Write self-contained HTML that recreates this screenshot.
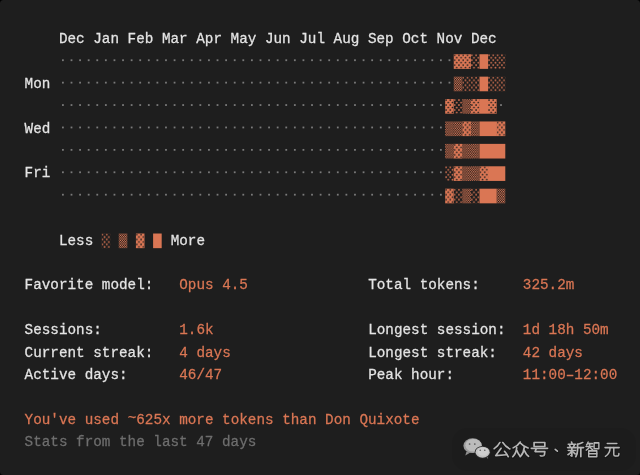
<!DOCTYPE html>
<html><head><meta charset="utf-8"><title>stats</title>
<style>
html,body{margin:0;padding:0;background:#1e1e1e;}
body{width:640px;height:475px;overflow:hidden;position:relative;font-family:"Liberation Mono",monospace;}
text{font-family:"Liberation Mono",monospace;font-size:14.3px;fill:#e4e4e4;stroke:#e4e4e4;stroke-width:0.25px;letter-spacing:0.0100px;white-space:pre;}
.o{fill:#da7654;stroke:#da7654;}
.g{fill:#6e6e6e;stroke:#6e6e6e;}
svg{position:absolute;left:0;top:0;will-change:transform;}
</style></head><body>
<svg width="640" height="475" viewBox="0 0 640 475" xml:space="preserve">
<defs>
<pattern id="p1" width="4.295" height="4.95" patternUnits="userSpaceOnUse"><rect x="0.050" y="0.150" width="1.7" height="1.7" rx="0.45" fill="#da7654"/><rect x="4.345" y="0.150" width="1.7" height="1.7" rx="0.45" fill="#da7654"/><rect x="-4.245" y="0.150" width="1.7" height="1.7" rx="0.45" fill="#da7654"/><rect x="2.200" y="2.650" width="1.7" height="1.7" rx="0.45" fill="#da7654"/><rect x="-2.095" y="2.650" width="1.7" height="1.7" rx="0.45" fill="#da7654"/><rect x="6.495" y="2.650" width="1.7" height="1.7" rx="0.45" fill="#da7654"/><rect x="0.050" y="5.100" width="1.7" height="1.7" rx="0.45" fill="#da7654"/><rect x="4.345" y="5.100" width="1.7" height="1.7" rx="0.45" fill="#da7654"/><rect x="2.200" y="-2.300" width="1.7" height="1.7" rx="0.45" fill="#da7654"/><rect x="-2.095" y="-2.300" width="1.7" height="1.7" rx="0.45" fill="#da7654"/></pattern>
<pattern id="p2" width="2.1475" height="2.475" patternUnits="userSpaceOnUse">
<rect x="0" y="0" width="1.07375" height="1.2375" fill="#da7654"/>
<rect x="1.07375" y="1.2375" width="1.07375" height="1.2375" fill="#da7654"/>
</pattern>
<pattern id="p3" width="4.295" height="4.95" patternUnits="userSpaceOnUse"><rect x="0.075" y="0.175" width="1.65" height="1.65" rx="0.45" fill="#1e1e1e"/><rect x="4.370" y="0.175" width="1.65" height="1.65" rx="0.45" fill="#1e1e1e"/><rect x="-4.220" y="0.175" width="1.65" height="1.65" rx="0.45" fill="#1e1e1e"/><rect x="2.225" y="2.675" width="1.65" height="1.65" rx="0.45" fill="#1e1e1e"/><rect x="-2.070" y="2.675" width="1.65" height="1.65" rx="0.45" fill="#1e1e1e"/><rect x="6.520" y="2.675" width="1.65" height="1.65" rx="0.45" fill="#1e1e1e"/><rect x="0.075" y="5.125" width="1.65" height="1.65" rx="0.45" fill="#1e1e1e"/><rect x="4.370" y="5.125" width="1.65" height="1.65" rx="0.45" fill="#1e1e1e"/><rect x="2.225" y="-2.275" width="1.65" height="1.65" rx="0.45" fill="#1e1e1e"/><rect x="-2.070" y="-2.275" width="1.65" height="1.65" rx="0.45" fill="#1e1e1e"/></pattern>
</defs>
<rect x="62.01" y="59.33" width="1.8" height="1.8" fill="#7a7a7a"/>
<rect x="70.59" y="59.33" width="1.8" height="1.8" fill="#7a7a7a"/>
<rect x="79.18" y="59.33" width="1.8" height="1.8" fill="#7a7a7a"/>
<rect x="87.77" y="59.33" width="1.8" height="1.8" fill="#7a7a7a"/>
<rect x="96.36" y="59.33" width="1.8" height="1.8" fill="#7a7a7a"/>
<rect x="104.95" y="59.33" width="1.8" height="1.8" fill="#7a7a7a"/>
<rect x="113.55" y="59.33" width="1.8" height="1.8" fill="#7a7a7a"/>
<rect x="122.13" y="59.33" width="1.8" height="1.8" fill="#7a7a7a"/>
<rect x="130.72" y="59.33" width="1.8" height="1.8" fill="#7a7a7a"/>
<rect x="139.31" y="59.33" width="1.8" height="1.8" fill="#7a7a7a"/>
<rect x="147.90" y="59.33" width="1.8" height="1.8" fill="#7a7a7a"/>
<rect x="156.49" y="59.33" width="1.8" height="1.8" fill="#7a7a7a"/>
<rect x="165.08" y="59.33" width="1.8" height="1.8" fill="#7a7a7a"/>
<rect x="173.67" y="59.33" width="1.8" height="1.8" fill="#7a7a7a"/>
<rect x="182.26" y="59.33" width="1.8" height="1.8" fill="#7a7a7a"/>
<rect x="190.85" y="59.33" width="1.8" height="1.8" fill="#7a7a7a"/>
<rect x="199.44" y="59.33" width="1.8" height="1.8" fill="#7a7a7a"/>
<rect x="208.03" y="59.33" width="1.8" height="1.8" fill="#7a7a7a"/>
<rect x="216.62" y="59.33" width="1.8" height="1.8" fill="#7a7a7a"/>
<rect x="225.21" y="59.33" width="1.8" height="1.8" fill="#7a7a7a"/>
<rect x="233.80" y="59.33" width="1.8" height="1.8" fill="#7a7a7a"/>
<rect x="242.39" y="59.33" width="1.8" height="1.8" fill="#7a7a7a"/>
<rect x="250.98" y="59.33" width="1.8" height="1.8" fill="#7a7a7a"/>
<rect x="259.58" y="59.33" width="1.8" height="1.8" fill="#7a7a7a"/>
<rect x="268.17" y="59.33" width="1.8" height="1.8" fill="#7a7a7a"/>
<rect x="276.76" y="59.33" width="1.8" height="1.8" fill="#7a7a7a"/>
<rect x="285.35" y="59.33" width="1.8" height="1.8" fill="#7a7a7a"/>
<rect x="293.94" y="59.33" width="1.8" height="1.8" fill="#7a7a7a"/>
<rect x="302.53" y="59.33" width="1.8" height="1.8" fill="#7a7a7a"/>
<rect x="311.12" y="59.33" width="1.8" height="1.8" fill="#7a7a7a"/>
<rect x="319.71" y="59.33" width="1.8" height="1.8" fill="#7a7a7a"/>
<rect x="328.30" y="59.33" width="1.8" height="1.8" fill="#7a7a7a"/>
<rect x="336.89" y="59.33" width="1.8" height="1.8" fill="#7a7a7a"/>
<rect x="345.48" y="59.33" width="1.8" height="1.8" fill="#7a7a7a"/>
<rect x="354.07" y="59.33" width="1.8" height="1.8" fill="#7a7a7a"/>
<rect x="362.66" y="59.33" width="1.8" height="1.8" fill="#7a7a7a"/>
<rect x="371.25" y="59.33" width="1.8" height="1.8" fill="#7a7a7a"/>
<rect x="379.84" y="59.33" width="1.8" height="1.8" fill="#7a7a7a"/>
<rect x="388.43" y="59.33" width="1.8" height="1.8" fill="#7a7a7a"/>
<rect x="397.02" y="59.33" width="1.8" height="1.8" fill="#7a7a7a"/>
<rect x="405.61" y="59.33" width="1.8" height="1.8" fill="#7a7a7a"/>
<rect x="414.20" y="59.33" width="1.8" height="1.8" fill="#7a7a7a"/>
<rect x="422.79" y="59.33" width="1.8" height="1.8" fill="#7a7a7a"/>
<rect x="431.38" y="59.33" width="1.8" height="1.8" fill="#7a7a7a"/>
<rect x="439.97" y="59.33" width="1.8" height="1.8" fill="#7a7a7a"/>
<rect x="448.56" y="59.33" width="1.8" height="1.8" fill="#7a7a7a"/>
<rect x="453.75" y="54.23" width="17.18" height="14.65" fill="#da7654"/>
<rect x="479.52" y="54.23" width="8.59" height="14.65" fill="#da7654"/>
<g transform="translate(453.75 54.23)"><rect width="8.59" height="14.65" fill="url(#p3)"/></g>
<g transform="translate(462.34 54.23)"><rect width="8.59" height="14.65" fill="url(#p3)"/></g>
<g transform="translate(470.93 54.23)"><rect width="8.59" height="14.65" fill="url(#p1)"/></g>
<g transform="translate(488.11 54.23)"><rect width="8.59" height="14.65" fill="url(#p1)"/></g>
<g transform="translate(496.70 54.23)"><rect width="8.59" height="14.65" fill="url(#p1)"/></g>
<rect x="62.01" y="81.74" width="1.8" height="1.8" fill="#7a7a7a"/>
<rect x="70.59" y="81.74" width="1.8" height="1.8" fill="#7a7a7a"/>
<rect x="79.18" y="81.74" width="1.8" height="1.8" fill="#7a7a7a"/>
<rect x="87.77" y="81.74" width="1.8" height="1.8" fill="#7a7a7a"/>
<rect x="96.36" y="81.74" width="1.8" height="1.8" fill="#7a7a7a"/>
<rect x="104.95" y="81.74" width="1.8" height="1.8" fill="#7a7a7a"/>
<rect x="113.55" y="81.74" width="1.8" height="1.8" fill="#7a7a7a"/>
<rect x="122.13" y="81.74" width="1.8" height="1.8" fill="#7a7a7a"/>
<rect x="130.72" y="81.74" width="1.8" height="1.8" fill="#7a7a7a"/>
<rect x="139.31" y="81.74" width="1.8" height="1.8" fill="#7a7a7a"/>
<rect x="147.90" y="81.74" width="1.8" height="1.8" fill="#7a7a7a"/>
<rect x="156.49" y="81.74" width="1.8" height="1.8" fill="#7a7a7a"/>
<rect x="165.08" y="81.74" width="1.8" height="1.8" fill="#7a7a7a"/>
<rect x="173.67" y="81.74" width="1.8" height="1.8" fill="#7a7a7a"/>
<rect x="182.26" y="81.74" width="1.8" height="1.8" fill="#7a7a7a"/>
<rect x="190.85" y="81.74" width="1.8" height="1.8" fill="#7a7a7a"/>
<rect x="199.44" y="81.74" width="1.8" height="1.8" fill="#7a7a7a"/>
<rect x="208.03" y="81.74" width="1.8" height="1.8" fill="#7a7a7a"/>
<rect x="216.62" y="81.74" width="1.8" height="1.8" fill="#7a7a7a"/>
<rect x="225.21" y="81.74" width="1.8" height="1.8" fill="#7a7a7a"/>
<rect x="233.80" y="81.74" width="1.8" height="1.8" fill="#7a7a7a"/>
<rect x="242.39" y="81.74" width="1.8" height="1.8" fill="#7a7a7a"/>
<rect x="250.98" y="81.74" width="1.8" height="1.8" fill="#7a7a7a"/>
<rect x="259.58" y="81.74" width="1.8" height="1.8" fill="#7a7a7a"/>
<rect x="268.17" y="81.74" width="1.8" height="1.8" fill="#7a7a7a"/>
<rect x="276.76" y="81.74" width="1.8" height="1.8" fill="#7a7a7a"/>
<rect x="285.35" y="81.74" width="1.8" height="1.8" fill="#7a7a7a"/>
<rect x="293.94" y="81.74" width="1.8" height="1.8" fill="#7a7a7a"/>
<rect x="302.53" y="81.74" width="1.8" height="1.8" fill="#7a7a7a"/>
<rect x="311.12" y="81.74" width="1.8" height="1.8" fill="#7a7a7a"/>
<rect x="319.71" y="81.74" width="1.8" height="1.8" fill="#7a7a7a"/>
<rect x="328.30" y="81.74" width="1.8" height="1.8" fill="#7a7a7a"/>
<rect x="336.89" y="81.74" width="1.8" height="1.8" fill="#7a7a7a"/>
<rect x="345.48" y="81.74" width="1.8" height="1.8" fill="#7a7a7a"/>
<rect x="354.07" y="81.74" width="1.8" height="1.8" fill="#7a7a7a"/>
<rect x="362.66" y="81.74" width="1.8" height="1.8" fill="#7a7a7a"/>
<rect x="371.25" y="81.74" width="1.8" height="1.8" fill="#7a7a7a"/>
<rect x="379.84" y="81.74" width="1.8" height="1.8" fill="#7a7a7a"/>
<rect x="388.43" y="81.74" width="1.8" height="1.8" fill="#7a7a7a"/>
<rect x="397.02" y="81.74" width="1.8" height="1.8" fill="#7a7a7a"/>
<rect x="405.61" y="81.74" width="1.8" height="1.8" fill="#7a7a7a"/>
<rect x="414.20" y="81.74" width="1.8" height="1.8" fill="#7a7a7a"/>
<rect x="422.79" y="81.74" width="1.8" height="1.8" fill="#7a7a7a"/>
<rect x="431.38" y="81.74" width="1.8" height="1.8" fill="#7a7a7a"/>
<rect x="439.97" y="81.74" width="1.8" height="1.8" fill="#7a7a7a"/>
<rect x="448.56" y="81.74" width="1.8" height="1.8" fill="#7a7a7a"/>
<rect x="479.52" y="76.64" width="8.59" height="14.65" fill="#da7654"/>
<g transform="translate(453.75 76.64)"><rect width="8.59" height="14.65" fill="url(#p2)"/></g>
<g transform="translate(462.34 76.64)"><rect width="8.59" height="14.65" fill="url(#p1)"/></g>
<g transform="translate(470.93 76.64)"><rect width="8.59" height="14.65" fill="url(#p1)"/></g>
<g transform="translate(488.11 76.64)"><rect width="8.59" height="14.65" fill="url(#p1)"/></g>
<g transform="translate(496.70 76.64)"><rect width="8.59" height="14.65" fill="url(#p1)"/></g>
<rect x="62.01" y="104.15" width="1.8" height="1.8" fill="#7a7a7a"/>
<rect x="70.59" y="104.15" width="1.8" height="1.8" fill="#7a7a7a"/>
<rect x="79.18" y="104.15" width="1.8" height="1.8" fill="#7a7a7a"/>
<rect x="87.77" y="104.15" width="1.8" height="1.8" fill="#7a7a7a"/>
<rect x="96.36" y="104.15" width="1.8" height="1.8" fill="#7a7a7a"/>
<rect x="104.95" y="104.15" width="1.8" height="1.8" fill="#7a7a7a"/>
<rect x="113.55" y="104.15" width="1.8" height="1.8" fill="#7a7a7a"/>
<rect x="122.13" y="104.15" width="1.8" height="1.8" fill="#7a7a7a"/>
<rect x="130.72" y="104.15" width="1.8" height="1.8" fill="#7a7a7a"/>
<rect x="139.31" y="104.15" width="1.8" height="1.8" fill="#7a7a7a"/>
<rect x="147.90" y="104.15" width="1.8" height="1.8" fill="#7a7a7a"/>
<rect x="156.49" y="104.15" width="1.8" height="1.8" fill="#7a7a7a"/>
<rect x="165.08" y="104.15" width="1.8" height="1.8" fill="#7a7a7a"/>
<rect x="173.67" y="104.15" width="1.8" height="1.8" fill="#7a7a7a"/>
<rect x="182.26" y="104.15" width="1.8" height="1.8" fill="#7a7a7a"/>
<rect x="190.85" y="104.15" width="1.8" height="1.8" fill="#7a7a7a"/>
<rect x="199.44" y="104.15" width="1.8" height="1.8" fill="#7a7a7a"/>
<rect x="208.03" y="104.15" width="1.8" height="1.8" fill="#7a7a7a"/>
<rect x="216.62" y="104.15" width="1.8" height="1.8" fill="#7a7a7a"/>
<rect x="225.21" y="104.15" width="1.8" height="1.8" fill="#7a7a7a"/>
<rect x="233.80" y="104.15" width="1.8" height="1.8" fill="#7a7a7a"/>
<rect x="242.39" y="104.15" width="1.8" height="1.8" fill="#7a7a7a"/>
<rect x="250.98" y="104.15" width="1.8" height="1.8" fill="#7a7a7a"/>
<rect x="259.58" y="104.15" width="1.8" height="1.8" fill="#7a7a7a"/>
<rect x="268.17" y="104.15" width="1.8" height="1.8" fill="#7a7a7a"/>
<rect x="276.76" y="104.15" width="1.8" height="1.8" fill="#7a7a7a"/>
<rect x="285.35" y="104.15" width="1.8" height="1.8" fill="#7a7a7a"/>
<rect x="293.94" y="104.15" width="1.8" height="1.8" fill="#7a7a7a"/>
<rect x="302.53" y="104.15" width="1.8" height="1.8" fill="#7a7a7a"/>
<rect x="311.12" y="104.15" width="1.8" height="1.8" fill="#7a7a7a"/>
<rect x="319.71" y="104.15" width="1.8" height="1.8" fill="#7a7a7a"/>
<rect x="328.30" y="104.15" width="1.8" height="1.8" fill="#7a7a7a"/>
<rect x="336.89" y="104.15" width="1.8" height="1.8" fill="#7a7a7a"/>
<rect x="345.48" y="104.15" width="1.8" height="1.8" fill="#7a7a7a"/>
<rect x="354.07" y="104.15" width="1.8" height="1.8" fill="#7a7a7a"/>
<rect x="362.66" y="104.15" width="1.8" height="1.8" fill="#7a7a7a"/>
<rect x="371.25" y="104.15" width="1.8" height="1.8" fill="#7a7a7a"/>
<rect x="379.84" y="104.15" width="1.8" height="1.8" fill="#7a7a7a"/>
<rect x="388.43" y="104.15" width="1.8" height="1.8" fill="#7a7a7a"/>
<rect x="397.02" y="104.15" width="1.8" height="1.8" fill="#7a7a7a"/>
<rect x="405.61" y="104.15" width="1.8" height="1.8" fill="#7a7a7a"/>
<rect x="414.20" y="104.15" width="1.8" height="1.8" fill="#7a7a7a"/>
<rect x="422.79" y="104.15" width="1.8" height="1.8" fill="#7a7a7a"/>
<rect x="431.38" y="104.15" width="1.8" height="1.8" fill="#7a7a7a"/>
<rect x="439.97" y="104.15" width="1.8" height="1.8" fill="#7a7a7a"/>
<rect x="500.10" y="104.15" width="1.8" height="1.8" fill="#7a7a7a"/>
<rect x="445.16" y="99.05" width="8.59" height="14.65" fill="#da7654"/>
<rect x="470.93" y="99.05" width="25.77" height="14.65" fill="#da7654"/>
<g transform="translate(445.16 99.05)"><rect width="8.59" height="14.65" fill="url(#p3)"/></g>
<g transform="translate(453.75 99.05)"><rect width="8.59" height="14.65" fill="url(#p1)"/></g>
<g transform="translate(462.34 99.05)"><rect width="8.59" height="14.65" fill="url(#p2)"/></g>
<g transform="translate(470.93 99.05)"><rect width="8.59" height="14.65" fill="url(#p3)"/></g>
<g transform="translate(488.11 99.05)"><rect width="8.59" height="14.65" fill="url(#p3)"/></g>
<rect x="62.01" y="126.56" width="1.8" height="1.8" fill="#7a7a7a"/>
<rect x="70.59" y="126.56" width="1.8" height="1.8" fill="#7a7a7a"/>
<rect x="79.18" y="126.56" width="1.8" height="1.8" fill="#7a7a7a"/>
<rect x="87.77" y="126.56" width="1.8" height="1.8" fill="#7a7a7a"/>
<rect x="96.36" y="126.56" width="1.8" height="1.8" fill="#7a7a7a"/>
<rect x="104.95" y="126.56" width="1.8" height="1.8" fill="#7a7a7a"/>
<rect x="113.55" y="126.56" width="1.8" height="1.8" fill="#7a7a7a"/>
<rect x="122.13" y="126.56" width="1.8" height="1.8" fill="#7a7a7a"/>
<rect x="130.72" y="126.56" width="1.8" height="1.8" fill="#7a7a7a"/>
<rect x="139.31" y="126.56" width="1.8" height="1.8" fill="#7a7a7a"/>
<rect x="147.90" y="126.56" width="1.8" height="1.8" fill="#7a7a7a"/>
<rect x="156.49" y="126.56" width="1.8" height="1.8" fill="#7a7a7a"/>
<rect x="165.08" y="126.56" width="1.8" height="1.8" fill="#7a7a7a"/>
<rect x="173.67" y="126.56" width="1.8" height="1.8" fill="#7a7a7a"/>
<rect x="182.26" y="126.56" width="1.8" height="1.8" fill="#7a7a7a"/>
<rect x="190.85" y="126.56" width="1.8" height="1.8" fill="#7a7a7a"/>
<rect x="199.44" y="126.56" width="1.8" height="1.8" fill="#7a7a7a"/>
<rect x="208.03" y="126.56" width="1.8" height="1.8" fill="#7a7a7a"/>
<rect x="216.62" y="126.56" width="1.8" height="1.8" fill="#7a7a7a"/>
<rect x="225.21" y="126.56" width="1.8" height="1.8" fill="#7a7a7a"/>
<rect x="233.80" y="126.56" width="1.8" height="1.8" fill="#7a7a7a"/>
<rect x="242.39" y="126.56" width="1.8" height="1.8" fill="#7a7a7a"/>
<rect x="250.98" y="126.56" width="1.8" height="1.8" fill="#7a7a7a"/>
<rect x="259.58" y="126.56" width="1.8" height="1.8" fill="#7a7a7a"/>
<rect x="268.17" y="126.56" width="1.8" height="1.8" fill="#7a7a7a"/>
<rect x="276.76" y="126.56" width="1.8" height="1.8" fill="#7a7a7a"/>
<rect x="285.35" y="126.56" width="1.8" height="1.8" fill="#7a7a7a"/>
<rect x="293.94" y="126.56" width="1.8" height="1.8" fill="#7a7a7a"/>
<rect x="302.53" y="126.56" width="1.8" height="1.8" fill="#7a7a7a"/>
<rect x="311.12" y="126.56" width="1.8" height="1.8" fill="#7a7a7a"/>
<rect x="319.71" y="126.56" width="1.8" height="1.8" fill="#7a7a7a"/>
<rect x="328.30" y="126.56" width="1.8" height="1.8" fill="#7a7a7a"/>
<rect x="336.89" y="126.56" width="1.8" height="1.8" fill="#7a7a7a"/>
<rect x="345.48" y="126.56" width="1.8" height="1.8" fill="#7a7a7a"/>
<rect x="354.07" y="126.56" width="1.8" height="1.8" fill="#7a7a7a"/>
<rect x="362.66" y="126.56" width="1.8" height="1.8" fill="#7a7a7a"/>
<rect x="371.25" y="126.56" width="1.8" height="1.8" fill="#7a7a7a"/>
<rect x="379.84" y="126.56" width="1.8" height="1.8" fill="#7a7a7a"/>
<rect x="388.43" y="126.56" width="1.8" height="1.8" fill="#7a7a7a"/>
<rect x="397.02" y="126.56" width="1.8" height="1.8" fill="#7a7a7a"/>
<rect x="405.61" y="126.56" width="1.8" height="1.8" fill="#7a7a7a"/>
<rect x="414.20" y="126.56" width="1.8" height="1.8" fill="#7a7a7a"/>
<rect x="422.79" y="126.56" width="1.8" height="1.8" fill="#7a7a7a"/>
<rect x="431.38" y="126.56" width="1.8" height="1.8" fill="#7a7a7a"/>
<rect x="439.97" y="126.56" width="1.8" height="1.8" fill="#7a7a7a"/>
<rect x="462.34" y="121.46" width="8.59" height="14.65" fill="#da7654"/>
<rect x="479.52" y="121.46" width="25.77" height="14.65" fill="#da7654"/>
<g transform="translate(445.16 121.46)"><rect width="8.59" height="14.65" fill="url(#p2)"/></g>
<g transform="translate(453.75 121.46)"><rect width="8.59" height="14.65" fill="url(#p2)"/></g>
<g transform="translate(462.34 121.46)"><rect width="8.59" height="14.65" fill="url(#p3)"/></g>
<g transform="translate(470.93 121.46)"><rect width="8.59" height="14.65" fill="url(#p2)"/></g>
<g transform="translate(496.70 121.46)"><rect width="8.59" height="14.65" fill="url(#p3)"/></g>
<rect x="62.01" y="148.97" width="1.8" height="1.8" fill="#7a7a7a"/>
<rect x="70.59" y="148.97" width="1.8" height="1.8" fill="#7a7a7a"/>
<rect x="79.18" y="148.97" width="1.8" height="1.8" fill="#7a7a7a"/>
<rect x="87.77" y="148.97" width="1.8" height="1.8" fill="#7a7a7a"/>
<rect x="96.36" y="148.97" width="1.8" height="1.8" fill="#7a7a7a"/>
<rect x="104.95" y="148.97" width="1.8" height="1.8" fill="#7a7a7a"/>
<rect x="113.55" y="148.97" width="1.8" height="1.8" fill="#7a7a7a"/>
<rect x="122.13" y="148.97" width="1.8" height="1.8" fill="#7a7a7a"/>
<rect x="130.72" y="148.97" width="1.8" height="1.8" fill="#7a7a7a"/>
<rect x="139.31" y="148.97" width="1.8" height="1.8" fill="#7a7a7a"/>
<rect x="147.90" y="148.97" width="1.8" height="1.8" fill="#7a7a7a"/>
<rect x="156.49" y="148.97" width="1.8" height="1.8" fill="#7a7a7a"/>
<rect x="165.08" y="148.97" width="1.8" height="1.8" fill="#7a7a7a"/>
<rect x="173.67" y="148.97" width="1.8" height="1.8" fill="#7a7a7a"/>
<rect x="182.26" y="148.97" width="1.8" height="1.8" fill="#7a7a7a"/>
<rect x="190.85" y="148.97" width="1.8" height="1.8" fill="#7a7a7a"/>
<rect x="199.44" y="148.97" width="1.8" height="1.8" fill="#7a7a7a"/>
<rect x="208.03" y="148.97" width="1.8" height="1.8" fill="#7a7a7a"/>
<rect x="216.62" y="148.97" width="1.8" height="1.8" fill="#7a7a7a"/>
<rect x="225.21" y="148.97" width="1.8" height="1.8" fill="#7a7a7a"/>
<rect x="233.80" y="148.97" width="1.8" height="1.8" fill="#7a7a7a"/>
<rect x="242.39" y="148.97" width="1.8" height="1.8" fill="#7a7a7a"/>
<rect x="250.98" y="148.97" width="1.8" height="1.8" fill="#7a7a7a"/>
<rect x="259.58" y="148.97" width="1.8" height="1.8" fill="#7a7a7a"/>
<rect x="268.17" y="148.97" width="1.8" height="1.8" fill="#7a7a7a"/>
<rect x="276.76" y="148.97" width="1.8" height="1.8" fill="#7a7a7a"/>
<rect x="285.35" y="148.97" width="1.8" height="1.8" fill="#7a7a7a"/>
<rect x="293.94" y="148.97" width="1.8" height="1.8" fill="#7a7a7a"/>
<rect x="302.53" y="148.97" width="1.8" height="1.8" fill="#7a7a7a"/>
<rect x="311.12" y="148.97" width="1.8" height="1.8" fill="#7a7a7a"/>
<rect x="319.71" y="148.97" width="1.8" height="1.8" fill="#7a7a7a"/>
<rect x="328.30" y="148.97" width="1.8" height="1.8" fill="#7a7a7a"/>
<rect x="336.89" y="148.97" width="1.8" height="1.8" fill="#7a7a7a"/>
<rect x="345.48" y="148.97" width="1.8" height="1.8" fill="#7a7a7a"/>
<rect x="354.07" y="148.97" width="1.8" height="1.8" fill="#7a7a7a"/>
<rect x="362.66" y="148.97" width="1.8" height="1.8" fill="#7a7a7a"/>
<rect x="371.25" y="148.97" width="1.8" height="1.8" fill="#7a7a7a"/>
<rect x="379.84" y="148.97" width="1.8" height="1.8" fill="#7a7a7a"/>
<rect x="388.43" y="148.97" width="1.8" height="1.8" fill="#7a7a7a"/>
<rect x="397.02" y="148.97" width="1.8" height="1.8" fill="#7a7a7a"/>
<rect x="405.61" y="148.97" width="1.8" height="1.8" fill="#7a7a7a"/>
<rect x="414.20" y="148.97" width="1.8" height="1.8" fill="#7a7a7a"/>
<rect x="422.79" y="148.97" width="1.8" height="1.8" fill="#7a7a7a"/>
<rect x="431.38" y="148.97" width="1.8" height="1.8" fill="#7a7a7a"/>
<rect x="439.97" y="148.97" width="1.8" height="1.8" fill="#7a7a7a"/>
<rect x="453.75" y="143.87" width="8.59" height="14.65" fill="#da7654"/>
<rect x="479.52" y="143.87" width="25.77" height="14.65" fill="#da7654"/>
<g transform="translate(445.16 143.87)"><rect width="8.59" height="14.65" fill="url(#p2)"/></g>
<g transform="translate(453.75 143.87)"><rect width="8.59" height="14.65" fill="url(#p3)"/></g>
<g transform="translate(462.34 143.87)"><rect width="8.59" height="14.65" fill="url(#p2)"/></g>
<g transform="translate(470.93 143.87)"><rect width="8.59" height="14.65" fill="url(#p2)"/></g>
<rect x="62.01" y="171.38" width="1.8" height="1.8" fill="#7a7a7a"/>
<rect x="70.59" y="171.38" width="1.8" height="1.8" fill="#7a7a7a"/>
<rect x="79.18" y="171.38" width="1.8" height="1.8" fill="#7a7a7a"/>
<rect x="87.77" y="171.38" width="1.8" height="1.8" fill="#7a7a7a"/>
<rect x="96.36" y="171.38" width="1.8" height="1.8" fill="#7a7a7a"/>
<rect x="104.95" y="171.38" width="1.8" height="1.8" fill="#7a7a7a"/>
<rect x="113.55" y="171.38" width="1.8" height="1.8" fill="#7a7a7a"/>
<rect x="122.13" y="171.38" width="1.8" height="1.8" fill="#7a7a7a"/>
<rect x="130.72" y="171.38" width="1.8" height="1.8" fill="#7a7a7a"/>
<rect x="139.31" y="171.38" width="1.8" height="1.8" fill="#7a7a7a"/>
<rect x="147.90" y="171.38" width="1.8" height="1.8" fill="#7a7a7a"/>
<rect x="156.49" y="171.38" width="1.8" height="1.8" fill="#7a7a7a"/>
<rect x="165.08" y="171.38" width="1.8" height="1.8" fill="#7a7a7a"/>
<rect x="173.67" y="171.38" width="1.8" height="1.8" fill="#7a7a7a"/>
<rect x="182.26" y="171.38" width="1.8" height="1.8" fill="#7a7a7a"/>
<rect x="190.85" y="171.38" width="1.8" height="1.8" fill="#7a7a7a"/>
<rect x="199.44" y="171.38" width="1.8" height="1.8" fill="#7a7a7a"/>
<rect x="208.03" y="171.38" width="1.8" height="1.8" fill="#7a7a7a"/>
<rect x="216.62" y="171.38" width="1.8" height="1.8" fill="#7a7a7a"/>
<rect x="225.21" y="171.38" width="1.8" height="1.8" fill="#7a7a7a"/>
<rect x="233.80" y="171.38" width="1.8" height="1.8" fill="#7a7a7a"/>
<rect x="242.39" y="171.38" width="1.8" height="1.8" fill="#7a7a7a"/>
<rect x="250.98" y="171.38" width="1.8" height="1.8" fill="#7a7a7a"/>
<rect x="259.58" y="171.38" width="1.8" height="1.8" fill="#7a7a7a"/>
<rect x="268.17" y="171.38" width="1.8" height="1.8" fill="#7a7a7a"/>
<rect x="276.76" y="171.38" width="1.8" height="1.8" fill="#7a7a7a"/>
<rect x="285.35" y="171.38" width="1.8" height="1.8" fill="#7a7a7a"/>
<rect x="293.94" y="171.38" width="1.8" height="1.8" fill="#7a7a7a"/>
<rect x="302.53" y="171.38" width="1.8" height="1.8" fill="#7a7a7a"/>
<rect x="311.12" y="171.38" width="1.8" height="1.8" fill="#7a7a7a"/>
<rect x="319.71" y="171.38" width="1.8" height="1.8" fill="#7a7a7a"/>
<rect x="328.30" y="171.38" width="1.8" height="1.8" fill="#7a7a7a"/>
<rect x="336.89" y="171.38" width="1.8" height="1.8" fill="#7a7a7a"/>
<rect x="345.48" y="171.38" width="1.8" height="1.8" fill="#7a7a7a"/>
<rect x="354.07" y="171.38" width="1.8" height="1.8" fill="#7a7a7a"/>
<rect x="362.66" y="171.38" width="1.8" height="1.8" fill="#7a7a7a"/>
<rect x="371.25" y="171.38" width="1.8" height="1.8" fill="#7a7a7a"/>
<rect x="379.84" y="171.38" width="1.8" height="1.8" fill="#7a7a7a"/>
<rect x="388.43" y="171.38" width="1.8" height="1.8" fill="#7a7a7a"/>
<rect x="397.02" y="171.38" width="1.8" height="1.8" fill="#7a7a7a"/>
<rect x="405.61" y="171.38" width="1.8" height="1.8" fill="#7a7a7a"/>
<rect x="414.20" y="171.38" width="1.8" height="1.8" fill="#7a7a7a"/>
<rect x="422.79" y="171.38" width="1.8" height="1.8" fill="#7a7a7a"/>
<rect x="431.38" y="171.38" width="1.8" height="1.8" fill="#7a7a7a"/>
<rect x="439.97" y="171.38" width="1.8" height="1.8" fill="#7a7a7a"/>
<rect x="453.75" y="166.28" width="8.59" height="14.65" fill="#da7654"/>
<rect x="479.52" y="166.28" width="25.77" height="14.65" fill="#da7654"/>
<g transform="translate(445.16 166.28)"><rect width="8.59" height="14.65" fill="url(#p1)"/></g>
<g transform="translate(453.75 166.28)"><rect width="8.59" height="14.65" fill="url(#p3)"/></g>
<g transform="translate(462.34 166.28)"><rect width="8.59" height="14.65" fill="url(#p2)"/></g>
<g transform="translate(470.93 166.28)"><rect width="8.59" height="14.65" fill="url(#p2)"/></g>
<g transform="translate(479.52 166.28)"><rect width="8.59" height="14.65" fill="url(#p3)"/></g>
<rect x="62.01" y="193.79" width="1.8" height="1.8" fill="#7a7a7a"/>
<rect x="70.59" y="193.79" width="1.8" height="1.8" fill="#7a7a7a"/>
<rect x="79.18" y="193.79" width="1.8" height="1.8" fill="#7a7a7a"/>
<rect x="87.77" y="193.79" width="1.8" height="1.8" fill="#7a7a7a"/>
<rect x="96.36" y="193.79" width="1.8" height="1.8" fill="#7a7a7a"/>
<rect x="104.95" y="193.79" width="1.8" height="1.8" fill="#7a7a7a"/>
<rect x="113.55" y="193.79" width="1.8" height="1.8" fill="#7a7a7a"/>
<rect x="122.13" y="193.79" width="1.8" height="1.8" fill="#7a7a7a"/>
<rect x="130.72" y="193.79" width="1.8" height="1.8" fill="#7a7a7a"/>
<rect x="139.31" y="193.79" width="1.8" height="1.8" fill="#7a7a7a"/>
<rect x="147.90" y="193.79" width="1.8" height="1.8" fill="#7a7a7a"/>
<rect x="156.49" y="193.79" width="1.8" height="1.8" fill="#7a7a7a"/>
<rect x="165.08" y="193.79" width="1.8" height="1.8" fill="#7a7a7a"/>
<rect x="173.67" y="193.79" width="1.8" height="1.8" fill="#7a7a7a"/>
<rect x="182.26" y="193.79" width="1.8" height="1.8" fill="#7a7a7a"/>
<rect x="190.85" y="193.79" width="1.8" height="1.8" fill="#7a7a7a"/>
<rect x="199.44" y="193.79" width="1.8" height="1.8" fill="#7a7a7a"/>
<rect x="208.03" y="193.79" width="1.8" height="1.8" fill="#7a7a7a"/>
<rect x="216.62" y="193.79" width="1.8" height="1.8" fill="#7a7a7a"/>
<rect x="225.21" y="193.79" width="1.8" height="1.8" fill="#7a7a7a"/>
<rect x="233.80" y="193.79" width="1.8" height="1.8" fill="#7a7a7a"/>
<rect x="242.39" y="193.79" width="1.8" height="1.8" fill="#7a7a7a"/>
<rect x="250.98" y="193.79" width="1.8" height="1.8" fill="#7a7a7a"/>
<rect x="259.58" y="193.79" width="1.8" height="1.8" fill="#7a7a7a"/>
<rect x="268.17" y="193.79" width="1.8" height="1.8" fill="#7a7a7a"/>
<rect x="276.76" y="193.79" width="1.8" height="1.8" fill="#7a7a7a"/>
<rect x="285.35" y="193.79" width="1.8" height="1.8" fill="#7a7a7a"/>
<rect x="293.94" y="193.79" width="1.8" height="1.8" fill="#7a7a7a"/>
<rect x="302.53" y="193.79" width="1.8" height="1.8" fill="#7a7a7a"/>
<rect x="311.12" y="193.79" width="1.8" height="1.8" fill="#7a7a7a"/>
<rect x="319.71" y="193.79" width="1.8" height="1.8" fill="#7a7a7a"/>
<rect x="328.30" y="193.79" width="1.8" height="1.8" fill="#7a7a7a"/>
<rect x="336.89" y="193.79" width="1.8" height="1.8" fill="#7a7a7a"/>
<rect x="345.48" y="193.79" width="1.8" height="1.8" fill="#7a7a7a"/>
<rect x="354.07" y="193.79" width="1.8" height="1.8" fill="#7a7a7a"/>
<rect x="362.66" y="193.79" width="1.8" height="1.8" fill="#7a7a7a"/>
<rect x="371.25" y="193.79" width="1.8" height="1.8" fill="#7a7a7a"/>
<rect x="379.84" y="193.79" width="1.8" height="1.8" fill="#7a7a7a"/>
<rect x="388.43" y="193.79" width="1.8" height="1.8" fill="#7a7a7a"/>
<rect x="397.02" y="193.79" width="1.8" height="1.8" fill="#7a7a7a"/>
<rect x="405.61" y="193.79" width="1.8" height="1.8" fill="#7a7a7a"/>
<rect x="414.20" y="193.79" width="1.8" height="1.8" fill="#7a7a7a"/>
<rect x="422.79" y="193.79" width="1.8" height="1.8" fill="#7a7a7a"/>
<rect x="431.38" y="193.79" width="1.8" height="1.8" fill="#7a7a7a"/>
<rect x="439.97" y="193.79" width="1.8" height="1.8" fill="#7a7a7a"/>
<rect x="445.16" y="188.69" width="8.59" height="14.65" fill="#da7654"/>
<rect x="479.52" y="188.69" width="17.18" height="14.65" fill="#da7654"/>
<g transform="translate(445.16 188.69)"><rect width="8.59" height="14.65" fill="url(#p3)"/></g>
<g transform="translate(453.75 188.69)"><rect width="8.59" height="14.65" fill="url(#p1)"/></g>
<g transform="translate(462.34 188.69)"><rect width="8.59" height="14.65" fill="url(#p2)"/></g>
<g transform="translate(470.93 188.69)"><rect width="8.59" height="14.65" fill="url(#p1)"/></g>
<g transform="translate(496.70 188.69)"><rect width="8.59" height="14.65" fill="url(#p2)"/></g>
<g transform="translate(101.56 233.51)"><rect width="8.59" height="14.65" fill="url(#p1)"/></g>
<g transform="translate(118.74 233.51)"><rect width="8.59" height="14.65" fill="url(#p2)"/></g>
<rect x="135.92" y="233.51" width="8.59" height="14.65" fill="#da7654"/>
<g transform="translate(135.92 233.51)"><rect width="8.59" height="14.65" fill="url(#p3)"/></g>
<rect x="153.10" y="233.51" width="8.59" height="14.65" fill="#da7654"/>
<path d="M0 0H640V475H0Z M3.5 0A3.5 3.5 0 0 0 0 3.5V471.5A3.5 3.5 0 0 0 3.5 475H636.5A3.5 3.5 0 0 0 640 471.5V3.5A3.5 3.5 0 0 0 636.5 0Z" fill="#000" fill-rule="evenodd"/>
<text class="" transform="translate(58.96 42.92) scale(1.0 1.03)">Dec Jan Feb Mar Apr May Jun Jul Aug Sep Oct Nov Dec</text>
<text class="" transform="translate(24.60 87.74) scale(1.0 1.03)">Mon</text>
<text class="" transform="translate(24.60 132.56) scale(1.0 1.03)">Wed</text>
<text class="" transform="translate(24.60 177.38) scale(1.0 1.03)">Fri</text>
<text class="" transform="translate(58.96 244.61) scale(1.0 1.03)">Less</text>
<text class="" transform="translate(170.63 244.61) scale(1.0 1.03)">More</text>
<text class="" transform="translate(24.60 289.43) scale(1.0 1.03)">Favorite model:</text>
<text class="o" transform="translate(179.22 289.43) scale(1.0 1.03)">Opus 4.5</text>
<text class="" transform="translate(368.20 289.43) scale(1.0 1.03)">Total tokens:</text>
<text class="o" transform="translate(522.82 289.43) scale(1.0 1.03)">325.2m</text>
<text class="" transform="translate(24.60 334.25) scale(1.0 1.03)">Sessions:</text>
<text class="o" transform="translate(179.22 334.25) scale(1.0 1.03)">1.6k</text>
<text class="" transform="translate(368.20 334.25) scale(1.0 1.03)">Longest session:</text>
<text class="o" transform="translate(522.82 334.25) scale(1.0 1.03)">1d 18h 50m</text>
<text class="" transform="translate(24.60 356.66) scale(1.0 1.03)">Current streak:</text>
<text class="o" transform="translate(179.22 356.66) scale(1.0 1.03)">4 days</text>
<text class="" transform="translate(368.20 356.66) scale(1.0 1.03)">Longest streak:</text>
<text class="o" transform="translate(522.82 356.66) scale(1.0 1.03)">42 days</text>
<text class="" transform="translate(24.60 379.07) scale(1.0 1.03)">Active days:</text>
<text class="o" transform="translate(179.22 379.07) scale(1.0 1.03)">46/47</text>
<text class="" transform="translate(368.20 379.07) scale(1.0 1.03)">Peak hour:</text>
<text class="o" transform="translate(522.82 379.07) scale(1.0 1.03)">11:00–12:00</text>
<text class="o" transform="translate(24.60 423.89) scale(1.0 1.03)">You've used </text>
<text class="o" transform="translate(127.68 422.29) scale(1.0 1.03)">~</text>
<text class="o" transform="translate(136.27 423.89) scale(1.0 1.03)">625x more tokens than Don Quixote</text>
<text class="g" transform="translate(24.60 446.30) scale(1.0 1.03)">Stats from the last 47 days</text>
<rect x="452" y="428" width="184" height="43" rx="15" fill="#000" opacity="0.05"/>
<g>
<path d="M466.5 451.5 L465.3 455.6 L470 452.8 Z" fill="#8f8f8f"/>
<ellipse cx="472.7" cy="445.7" rx="9.3" ry="7.4" fill="#9c9c9c"/>
<ellipse cx="473.4" cy="445.2" rx="8.0" ry="6.3" fill="#bcbcbc"/>
<circle cx="469.6" cy="444" r="0.85" fill="#555"/><circle cx="474.8" cy="444" r="0.85" fill="#555"/>
<path d="M485.5 456.5 L487.9 458.9 L487.6 455.2 Z" fill="#bdbdbd" stroke="#333" stroke-width="0.6"/>
<ellipse cx="482.6" cy="452.2" rx="7.9" ry="6.3" fill="#2b2b2b"/>
<ellipse cx="482.6" cy="452.2" rx="7.1" ry="5.5" fill="#c2c2c2"/>
<ellipse cx="483.2" cy="451.6" rx="5.6" ry="4.2" fill="#cfcfcf"/>
<circle cx="480.2" cy="450.3" r="0.75" fill="#555"/><circle cx="484.8" cy="450.3" r="0.75" fill="#555"/>
</g>
<g transform="translate(493.90 442.50) scale(0.1630 0.148)" fill="none" stroke="#0c0c0c" stroke-width="17" opacity="0.55" stroke-linecap="round" stroke-linejoin="round"><path d="M39 3 L24 26 L3 46" vector-effect="none"/><path d="M56 3 Q70 30 100 47" vector-effect="none"/><path d="M46 42 L13 92 L80 86" vector-effect="none"/><path d="M67 63 Q82 80 90 100" vector-effect="none"/></g>
<g transform="translate(512.60 442.50) scale(0.1630 0.148)" fill="none" stroke="#0c0c0c" stroke-width="17" opacity="0.55" stroke-linecap="round" stroke-linejoin="round"><path d="M49 0 Q35 25 5 40" vector-effect="none"/><path d="M51 8 Q68 30 97 40" vector-effect="none"/><path d="M27 38 Q25 75 3 100" vector-effect="none"/><path d="M28 58 Q36 82 47 95" vector-effect="none"/><path d="M73 38 Q70 75 49 100" vector-effect="none"/><path d="M74 58 Q85 85 100 97" vector-effect="none"/></g>
<g transform="translate(531.60 442.50) scale(0.1630 0.148)" fill="none" stroke="#0c0c0c" stroke-width="17" opacity="0.55" stroke-linecap="round" stroke-linejoin="round"><path d="M17 4 H83 V30 H17 Z" vector-effect="none"/><path d="M0 43 H100" vector-effect="none"/><path d="M30 45 L23 65 H83 Q82 88 77 92 Q70 96 55 93" vector-effect="none"/></g>
<g transform="translate(567.60 442.50) scale(0.1630 0.148)" fill="none" stroke="#0c0c0c" stroke-width="17" opacity="0.55" stroke-linecap="round" stroke-linejoin="round"><path d="M26 0 L29 11" vector-effect="none"/><path d="M6 15 H51" vector-effect="none"/><path d="M14 21 L18 33" vector-effect="none"/><path d="M43 21 L38 33" vector-effect="none"/><path d="M2 38 H54" vector-effect="none"/><path d="M6 57 H51" vector-effect="none"/><path d="M28 38 V96 L22 92" vector-effect="none"/><path d="M26 62 Q18 78 4 86" vector-effect="none"/><path d="M34 66 L48 80" vector-effect="none"/><path d="M95 3 Q80 12 63 15" vector-effect="none"/><path d="M63 15 V55 Q62 82 52 100" vector-effect="none"/><path d="M63 38 H100" vector-effect="none"/><path d="M83 38 V100" vector-effect="none"/></g>
<g transform="translate(586.30 442.50) scale(0.1353 0.148)" fill="none" stroke="#0c0c0c" stroke-width="17" opacity="0.55" stroke-linecap="round" stroke-linejoin="round"><path d="M16 0 Q12 10 4 20" vector-effect="none"/><path d="M12 11 H48" vector-effect="none"/><path d="M0 30 H52" vector-effect="none"/><path d="M27 11 V30 Q22 45 2 55" vector-effect="none"/><path d="M29 34 Q38 46 50 52" vector-effect="none"/><path d="M60 6 H95 V46 H60 Z" vector-effect="none"/><path d="M20 60 H80 V100 H20 Z" vector-effect="none"/><path d="M20 80 H80" vector-effect="none"/></g>
<g transform="translate(605.30 442.50) scale(0.1418 0.148)" fill="none" stroke="#0c0c0c" stroke-width="17" opacity="0.55" stroke-linecap="round" stroke-linejoin="round"><path d="M16 10 H84" vector-effect="none"/><path d="M0 38 H100" vector-effect="none"/><path d="M36 38 Q36 80 3 97" vector-effect="none"/><path d="M62 38 V84 Q62 94 72 94 H90 Q98 94 98 78" vector-effect="none"/></g>
<g transform="translate(493.60 442.00) scale(0.1630 0.148)" fill="none" stroke="#b6b6b6" stroke-width="10.5" stroke-linecap="round" stroke-linejoin="round"><path d="M39 3 L24 26 L3 46" vector-effect="none"/><path d="M56 3 Q70 30 100 47" vector-effect="none"/><path d="M46 42 L13 92 L80 86" vector-effect="none"/><path d="M67 63 Q82 80 90 100" vector-effect="none"/></g>
<g transform="translate(512.30 442.00) scale(0.1630 0.148)" fill="none" stroke="#b6b6b6" stroke-width="10.5" stroke-linecap="round" stroke-linejoin="round"><path d="M49 0 Q35 25 5 40" vector-effect="none"/><path d="M51 8 Q68 30 97 40" vector-effect="none"/><path d="M27 38 Q25 75 3 100" vector-effect="none"/><path d="M28 58 Q36 82 47 95" vector-effect="none"/><path d="M73 38 Q70 75 49 100" vector-effect="none"/><path d="M74 58 Q85 85 100 97" vector-effect="none"/></g>
<g transform="translate(531.30 442.00) scale(0.1630 0.148)" fill="none" stroke="#b6b6b6" stroke-width="10.5" stroke-linecap="round" stroke-linejoin="round"><path d="M17 4 H83 V30 H17 Z" vector-effect="none"/><path d="M0 43 H100" vector-effect="none"/><path d="M30 45 L23 65 H83 Q82 88 77 92 Q70 96 55 93" vector-effect="none"/></g>
<g transform="translate(567.30 442.00) scale(0.1630 0.148)" fill="none" stroke="#b6b6b6" stroke-width="10.5" stroke-linecap="round" stroke-linejoin="round"><path d="M26 0 L29 11" vector-effect="none"/><path d="M6 15 H51" vector-effect="none"/><path d="M14 21 L18 33" vector-effect="none"/><path d="M43 21 L38 33" vector-effect="none"/><path d="M2 38 H54" vector-effect="none"/><path d="M6 57 H51" vector-effect="none"/><path d="M28 38 V96 L22 92" vector-effect="none"/><path d="M26 62 Q18 78 4 86" vector-effect="none"/><path d="M34 66 L48 80" vector-effect="none"/><path d="M95 3 Q80 12 63 15" vector-effect="none"/><path d="M63 15 V55 Q62 82 52 100" vector-effect="none"/><path d="M63 38 H100" vector-effect="none"/><path d="M83 38 V100" vector-effect="none"/></g>
<g transform="translate(586.00 442.00) scale(0.1353 0.148)" fill="none" stroke="#b6b6b6" stroke-width="10.5" stroke-linecap="round" stroke-linejoin="round"><path d="M16 0 Q12 10 4 20" vector-effect="none"/><path d="M12 11 H48" vector-effect="none"/><path d="M0 30 H52" vector-effect="none"/><path d="M27 11 V30 Q22 45 2 55" vector-effect="none"/><path d="M29 34 Q38 46 50 52" vector-effect="none"/><path d="M60 6 H95 V46 H60 Z" vector-effect="none"/><path d="M20 60 H80 V100 H20 Z" vector-effect="none"/><path d="M20 80 H80" vector-effect="none"/></g>
<g transform="translate(605.00 442.00) scale(0.1418 0.148)" fill="none" stroke="#b6b6b6" stroke-width="10.5" stroke-linecap="round" stroke-linejoin="round"><path d="M16 10 H84" vector-effect="none"/><path d="M0 38 H100" vector-effect="none"/><path d="M36 38 Q36 80 3 97" vector-effect="none"/><path d="M62 38 V84 Q62 94 72 94 H90 Q98 94 98 78" vector-effect="none"/></g>
<path d="M555.2 449.5 L557.5 451.4" stroke="#0c0c0c" stroke-width="3" opacity="0.5" stroke-linecap="round"/>
<path d="M555.2 449.3 L557.4 451.2" stroke="#b6b6b6" stroke-width="1.6" stroke-linecap="round"/>
</svg></body></html>
